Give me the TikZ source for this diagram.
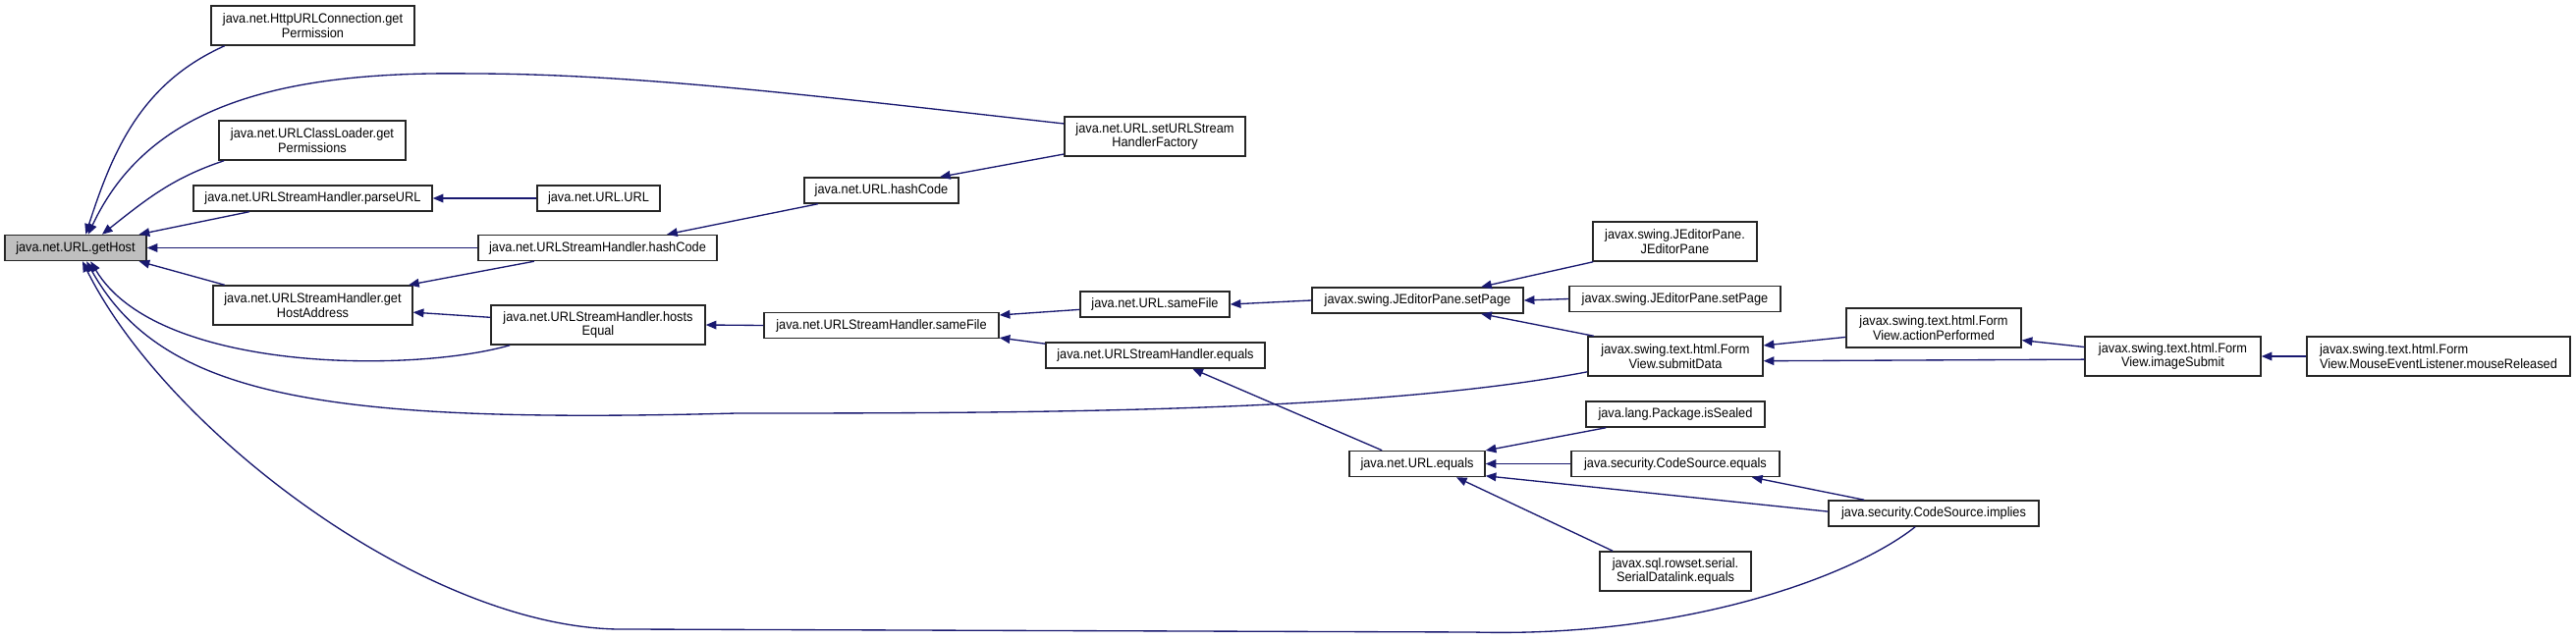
\documentclass[tikz,border=0pt]{standalone}
\usepackage{fontspec}
\setmainfont{Liberation Sans}[FakeStretch=0.93]
\usepackage{tikz}
\usetikzlibrary{arrows.meta}

\definecolor{callblue}{HTML}{191970}
\definecolor{rootgray}{HTML}{BFBFBF}
\newlength\pix
\setlength\pix{0.75pt}

\begin{document}
\begin{tikzpicture}[x=0.75pt,y=-0.75pt,
  fn/.style={draw=black!85, line width=1.1pt, fill=white, align=center,
    inner xsep=2pt, inner ysep=1pt, minimum height=26*\pix,
    font=\fontsize{10.3}{11}\selectfont},
  fn2/.style={fn, minimum height=40*\pix},
  call/.style={draw=callblue, line width=1pt, -{Triangle[length=8pt,width=6.5pt]}}]

\useasboundingbox (0,0) rectangle (2623,652);

\node[fn, fill=rootgray, minimum width=144*\pix] (getHost) at (77,252.5) {java.net.URL.getHost};
\node[fn2, minimum width=207*\pix] (httpPerm) at (318.5,26) {java.net.HttpURLConnection.get\\Permission};
\node[fn2, minimum width=190*\pix] (loaderPerm) at (318,143) {java.net.URLClassLoader.get\\Permissions};
\node[fn, minimum width=243*\pix] (parseURL) at (318.5,202) {java.net.URLStreamHandler.parseURL};
\node[fn, minimum width=125*\pix] (urlCtor) at (609.5,202) {java.net.URL.URL};
\node[fn, minimum width=243*\pix] (handlerHash) at (608.5,252.5) {java.net.URLStreamHandler.hashCode};
\node[fn2, minimum width=203*\pix] (hostAddr) at (318.5,311) {java.net.URLStreamHandler.get\\HostAddress};
\node[fn2, minimum width=218*\pix] (hostsEq) at (609,331) {java.net.URLStreamHandler.hosts\\Equal};
\node[fn2, minimum width=184*\pix] (setFactory) at (1176,139) {java.net.URL.setURLStream\\HandlerFactory};
\node[fn, minimum width=157*\pix] (urlHash) at (897.5,194) {java.net.URL.hashCode};
\node[fn, minimum width=239*\pix] (handlerSame) at (897.5,331.5) {java.net.URLStreamHandler.sameFile};
\node[fn, minimum width=152*\pix] (urlSame) at (1176,310) {java.net.URL.sameFile};
\node[fn, minimum width=223*\pix] (handlerEq) at (1176.5,362) {java.net.URLStreamHandler.equals};
\node[fn, minimum width=215*\pix] (setPage) at (1443.5,306) {javax.swing.JEditorPane.setPage};
\node[fn2, minimum width=167*\pix] (editorCtor) at (1705.5,246) {javax.swing.JEditorPane.\\JEditorPane};
\node[fn, minimum width=215*\pix] (setPageB) at (1705.5,304.5) {javax.swing.JEditorPane.setPage};
\node[fn2, minimum width=178*\pix] (submitData) at (1706,363) {javax.swing.text.html.Form\\View.submitData};
\node[fn2, minimum width=178*\pix] (actionPerf) at (1969,334) {javax.swing.text.html.Form\\View.actionPerformed};
\node[fn2, minimum width=179*\pix] (imageSubmit) at (2212.5,363) {javax.swing.text.html.Form\\View.imageSubmit};
\node[fn2, align=left, minimum width=268*\pix] (mouseRel) at (2483,363) {javax.swing.text.html.Form\\View.MouseEventListener.mouseReleased};
\node[fn, minimum width=182*\pix] (isSealed) at (1706,422) {java.lang.Package.isSealed};
\node[fn, minimum width=138*\pix] (urlEq) at (1443,472.5) {java.net.URL.equals};
\node[fn, minimum width=212*\pix] (codeEq) at (1706,472.5) {java.security.CodeSource.equals};
\node[fn, minimum width=214*\pix] (implies) at (1969,523) {java.security.CodeSource.implies};
\node[fn2, minimum width=154*\pix] (datalinkEq) at (1706,582) {javax.sql.rowset.serial.\\SerialDatalink.equals};

\draw[call] (httpPerm.193) .. controls (146,84) and (116,149) .. (getHost.53);
\draw[call] (setFactory.172) .. controls (850,100) and (650,75) .. (480,75)
  .. controls (280,72) and (150,110) .. (getHost.47);
\draw[call] (loaderPerm.193) .. controls (176,181) and (149,203) .. (getHost.27);
\draw[call] (parseURL.192) -- (getHost.12);
\draw[call] (urlCtor.west) -- (parseURL.east);
\draw[call] (handlerHash.west) -- (getHost.east);
\draw[call] (hostAddr.167) -- (getHost.348);
\draw[call] (hostsEq.193) .. controls (420,380) and (160,380) .. (getHost.318);
\draw[call] (submitData.190) .. controls (1400,420) and (1050,421) .. (750,421)
  .. controls (330,432) and (165,405) .. (getHost.309);
\draw[call] (implies.216) .. controls (1890,585) and (1720,650) .. (1500,644) -- (640,641)
  .. controls (440,645) and (170,440) .. (getHost.297);

\draw[call] (setFactory.191) -- (urlHash.13);
\draw[call] (urlHash.192) -- (handlerHash.11);
\draw[call] (handlerHash.192) -- (hostAddr.12);
\draw[call] (hostsEq.176) -- (hostAddr.356);
\draw[call] (handlerSame.west) -- (hostsEq.east);
\draw[call] (urlSame.184) -- (handlerSame.5);
\draw[call] (handlerEq.174) -- (handlerSame.354);
\draw[call] (setPage.west) -- (urlSame.east);
\draw[call] (editorCtor.194) -- (setPage.12);
\draw[call] (setPageB.west) -- (setPage.east);
\draw[call] (submitData.166) -- (setPage.348);
\draw[call] (actionPerf.186) -- (submitData.7);
\draw[call] (imageSubmit.182) -- (submitData.357);
\draw[call] (imageSubmit.174) -- (actionPerf.352);
\draw[call] (mouseRel.west) -- (imageSubmit.east);
\draw[call] (urlEq.159) -- (handlerEq.340);
\draw[call] (isSealed.191) -- (urlEq.11);
\draw[call] (codeEq.west) -- (urlEq.east);
\draw[call] (implies.179) -- (urlEq.350);
\draw[call] (implies.169) -- (codeEq.350);
\draw[call] (datalinkEq.162) -- (urlEq.341);

\end{tikzpicture}
\end{document}
